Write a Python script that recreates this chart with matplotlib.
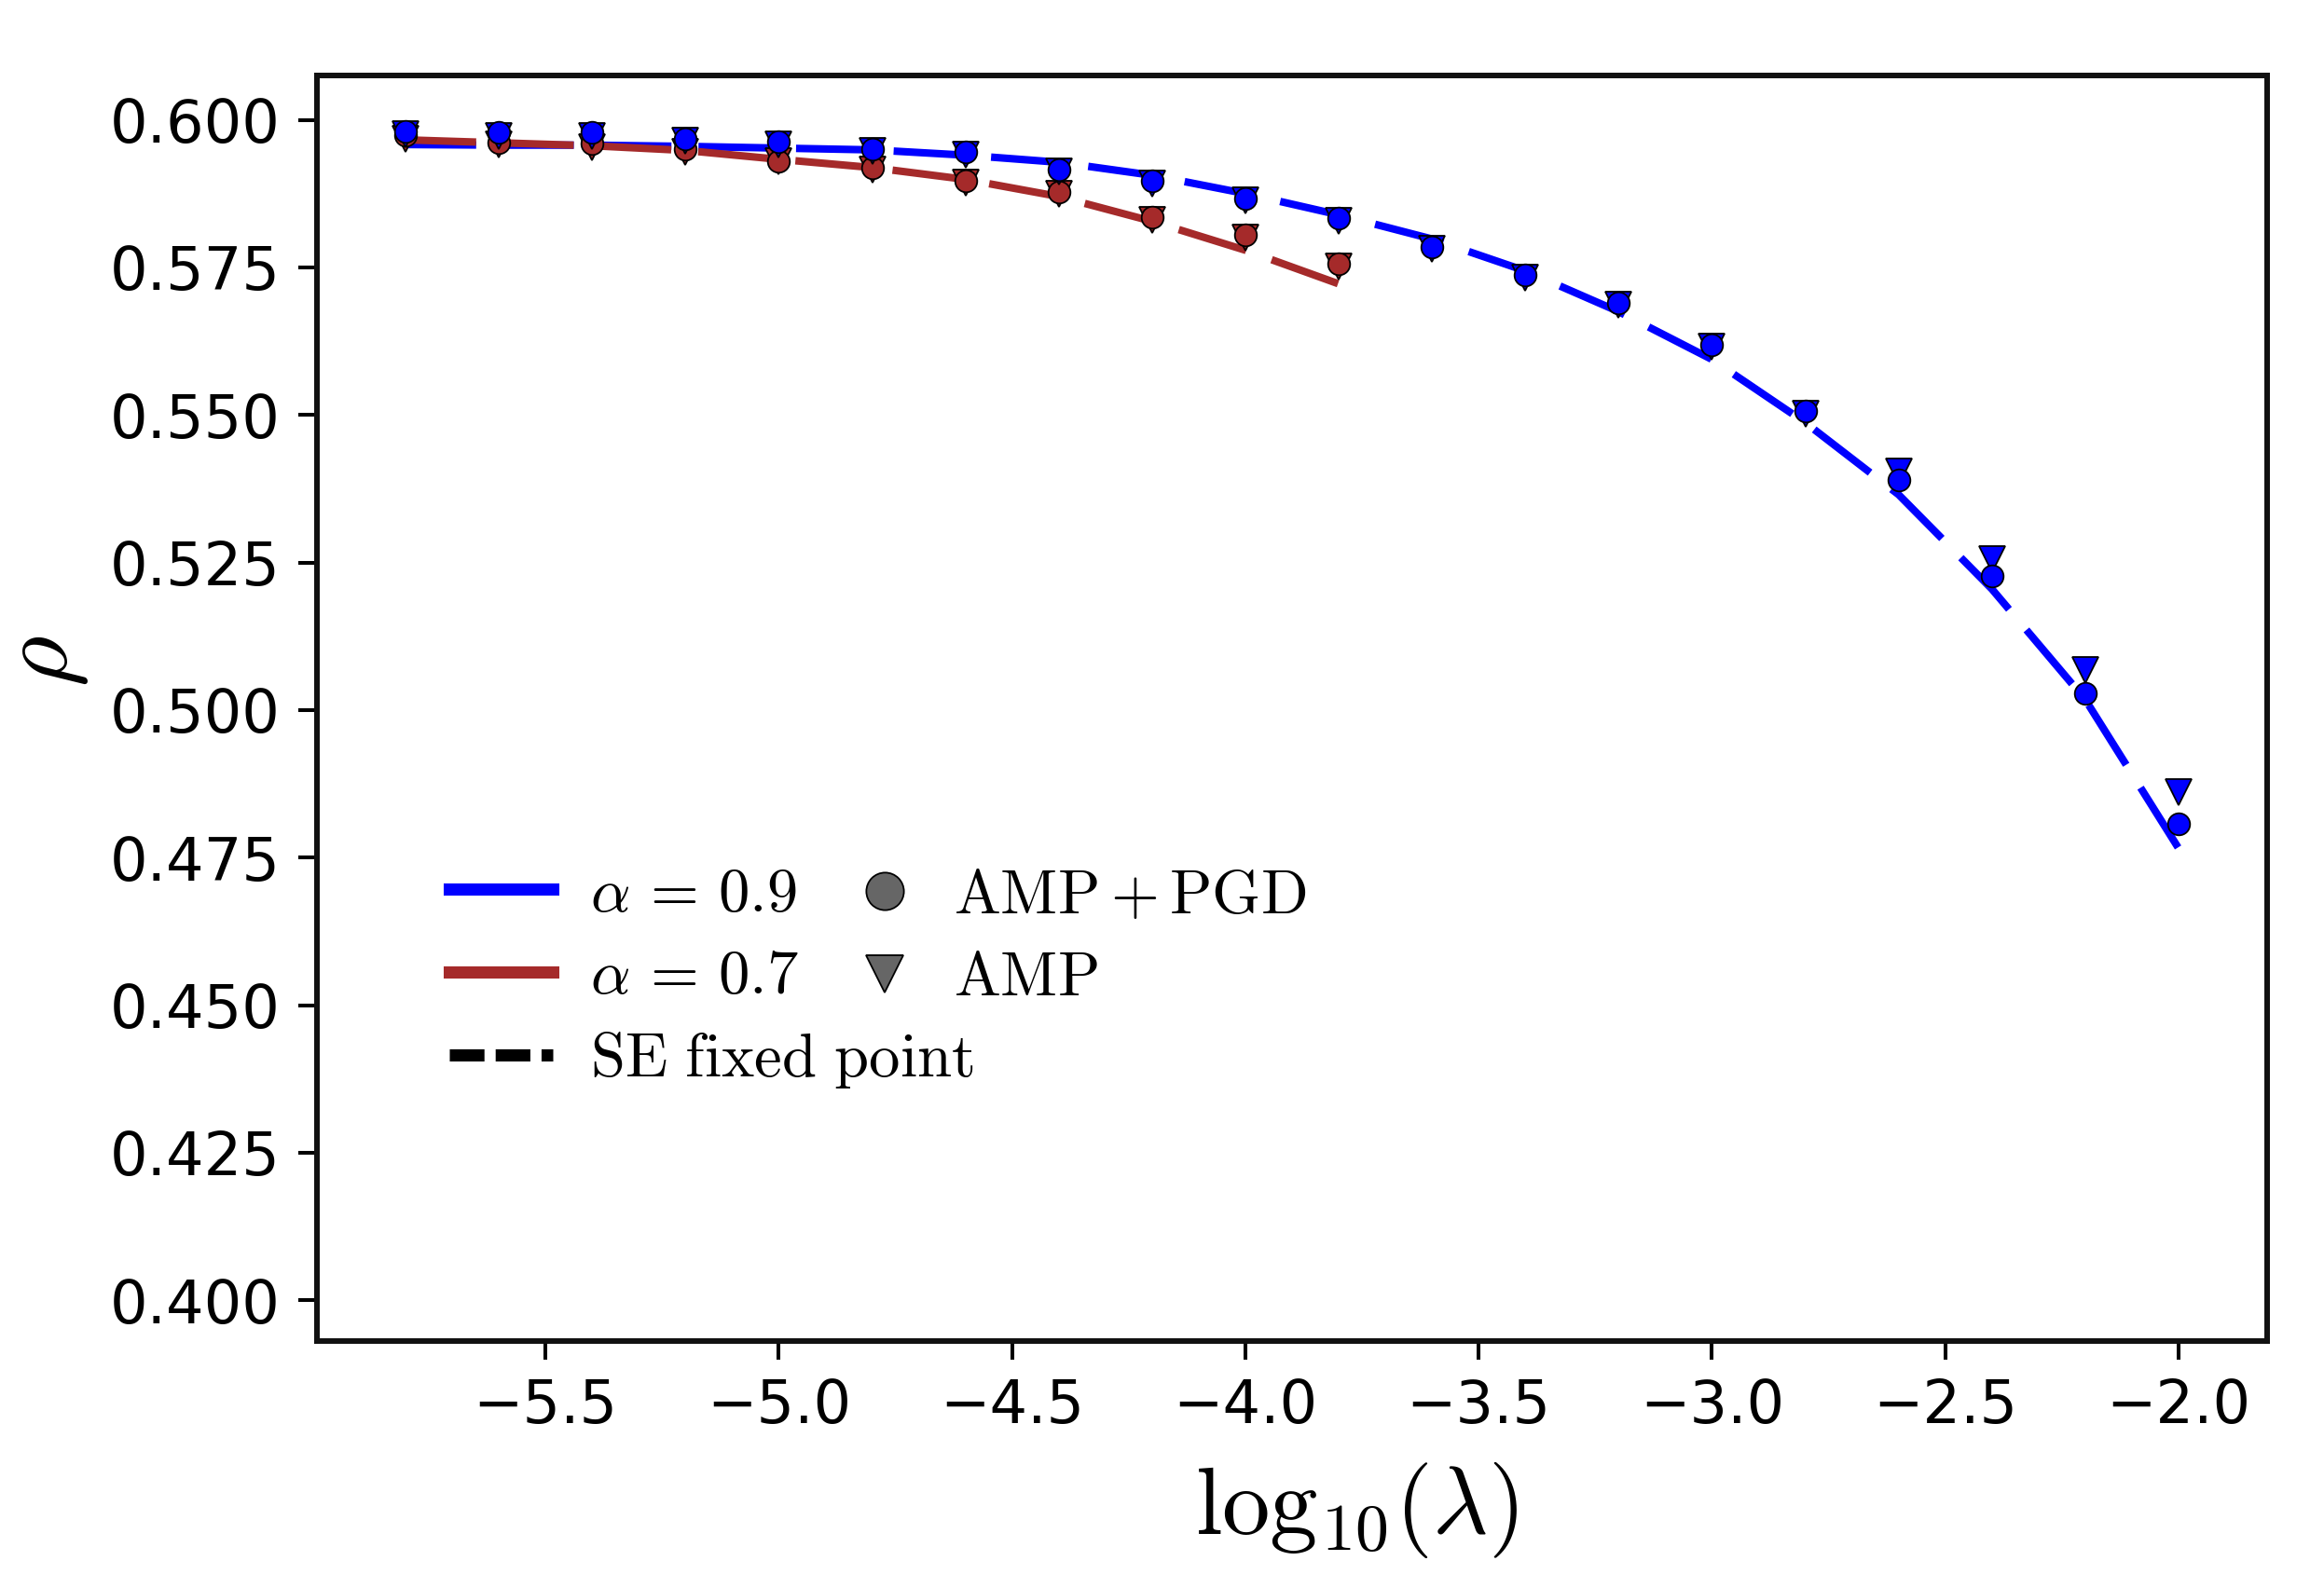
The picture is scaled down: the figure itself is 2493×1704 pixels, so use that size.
import matplotlib
matplotlib.use("Agg")
import matplotlib.pyplot as plt
from matplotlib.lines import Line2D

plt.rcParams['mathtext.fontset'] = 'cm'
plt.rcParams['font.family'] = ['DejaVu Sans']

# ---------------- data ----------------
x_blue = [-5.8, -5.6, -5.4, -5.2, -5.0, -4.8, -4.6, -4.4, -4.2, -4.0,
          -3.8, -3.6, -3.4, -3.2, -3.0, -2.8, -2.6, -2.4, -2.2, -2.0]
blue_pgd = [0.5981, 0.5979, 0.5979, 0.5968, 0.5963, 0.5950, 0.5945, 0.5916, 0.5896, 0.5867,
            0.5833, 0.5785, 0.5737, 0.5689, 0.5618, 0.5506, 0.5390, 0.5227, 0.5029, 0.4808]
blue_amp = [0.5976, 0.5973, 0.5973, 0.5964, 0.5958, 0.5947, 0.5941, 0.5912, 0.5892, 0.5863,
            0.5828, 0.5781, 0.5733, 0.5686, 0.5615, 0.5502, 0.5404, 0.5256, 0.5067, 0.4861]
blue_se = [0.5958, 0.5957, 0.5957, 0.5955, 0.5952, 0.5949, 0.5940, 0.5928, 0.5906, 0.5875,
           0.5839, 0.5798, 0.5744, 0.5675, 0.5594, 0.5487, 0.5365, 0.5205, 0.5018, 0.4766]

x_red = [-5.8, -5.6, -5.4, -5.2, -5.0, -4.8, -4.6, -4.4, -4.2, -4.0, -3.8]
red_pgd = [0.5974, 0.5962, 0.5959, 0.5951, 0.5930, 0.5918, 0.5897, 0.5877, 0.5835, 0.5805, 0.5756]
red_amp = [0.5968, 0.5958, 0.5953, 0.5945, 0.5930, 0.5915, 0.5893, 0.5874, 0.5830, 0.5801, 0.5752]
red_se = [0.5966, 0.5961, 0.5956, 0.5948, 0.5933, 0.5919, 0.5899, 0.5870, 0.5828, 0.5779, 0.5722]

xticks = [-5.5, -5.0, -4.5, -4.0, -3.5, -3.0, -2.5, -2.0]
yticks = [0.400, 0.425, 0.450, 0.475, 0.500, 0.525, 0.550, 0.575, 0.600]

series_labels = [r'$\alpha\,=\,0.9$', r'$\alpha\,=\,0.7$', r'$\mathrm{SE\ fixed\ point}$']
marker_labels = [r'$\mathrm{AMP} + \mathrm{PGD}$', r'$\mathrm{AMP}$']

BLUE = '#0000FF'
RED = '#A52A2A'

# ---------------- figure ----------------
fig = plt.figure(figsize=(24.93, 17.04), dpi=100)
ax = fig.add_axes([0.13638, 0.15552, 0.83915, 0.79694])

lw_line = 5.8
dash = (0, (9.4, 3.6))
ms_c = 17
ms_t = 20.5
mew = 1.3

ax.plot(x_blue, blue_se, color=BLUE, lw=lw_line, linestyle=dash, zorder=2)
ax.plot(x_red, red_se, color=RED, lw=lw_line, linestyle=dash, zorder=2.1)

ax.plot(x_red, red_amp, linestyle='none', marker='v', ms=ms_t, mfc=RED, mec='black', mew=mew, zorder=3)
ax.plot(x_red, red_pgd, linestyle='none', marker='o', ms=ms_c, mfc=RED, mec='black', mew=mew, zorder=3.1)
ax.plot(x_blue, blue_amp, linestyle='none', marker='v', ms=ms_t, mfc=BLUE, mec='black', mew=mew, zorder=3.2)
ax.plot(x_blue, blue_pgd, linestyle='none', marker='o', ms=ms_c, mfc=BLUE, mec='black', mew=mew, zorder=3.3)

ax.set_xlim(-5.99, -1.81)
ax.set_ylim(0.3931, 0.6075)
ax.set_xticks(xticks)
ax.set_yticks(yticks)
ax.set_xticklabels([f'{v:.1f}'.replace('-', '\u2212') for v in xticks])
ax.set_yticklabels([f'{v:.3f}' for v in yticks])
ax.tick_params(axis='both', labelsize=46, length=14.4, width=2.9, pad=14, direction='out')
for s in ax.spines.values():
    s.set_linewidth(4.3)
    s.set_color('#111111')

ax.set_xlabel(r'$\mathrm{log}_{10}(\lambda)$', fontsize=74)
ax.xaxis.set_label_coords(0.533, -0.0943)
ax.set_ylabel(r'$\rho$', fontsize=76)
ax.yaxis.set_label_coords(-0.116, 0.537)

# legends
lw_leg = 9.4
h1 = [Line2D([], [], color=BLUE, lw=lw_leg),
      Line2D([], [], color=RED, lw=lw_leg),
      Line2D([], [], color='black', lw=lw_leg, linestyle=(0, (2.85, 0.92)))]
leg1 = ax.legend(h1, series_labels, loc='center left', bbox_to_anchor=(0.0679, 0.2880),
                 frameon=False, fontsize=48, handlelength=1.66, handletextpad=0.6,
                 labelspacing=0.34, borderpad=0, borderaxespad=0)
ax.add_artist(leg1)
h2 = [Line2D([], [], linestyle='none', marker='o', ms=29, mfc='#666666', mec='black', mew=1.3),
      Line2D([], [], linestyle='none', marker='v', ms=29, mfc='#666666', mec='black', mew=1.3)]
leg2 = ax.legend(h2, marker_labels, loc='center left', bbox_to_anchor=(0.2753, 0.3195),
                 frameon=False, fontsize=48, handlelength=1.0, handletextpad=0.6,
                 labelspacing=0.34, borderpad=0, borderaxespad=0)

fig.savefig('out.png', dpi=100)
